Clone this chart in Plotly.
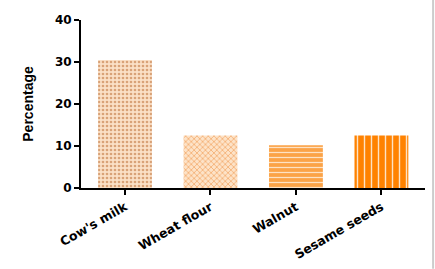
import plotly.graph_objects as go

categories = ["Cow's milk", "Wheat flour", "Walnut", "Sesame seeds"]
values = [30.5, 12.5, 10.2, 12.5]
y_ticks = [0, 10, 20, 30, 40]

shapes = [".", "x", "-", "|"]
bgcolors = ["#fbe0c6", "#fde3c8", "#fba347", "#ff8200"]
fgcolors = ["#d9a277", "#f4b27a", "#fde2c4", "#fde2c4"]
sizes = [4, 4, 5, 7]
solidity = [0.35, 0.4, 0.25, 0.2]

fig = go.Figure()
for i, c in enumerate(categories):
    fig.add_trace(go.Bar(
        x=[c], y=[values[i]], width=0.63,
        marker=dict(
            color=bgcolors[i],
            line=dict(width=0),
            pattern=dict(shape=shapes[i], bgcolor=bgcolors[i], fgcolor=fgcolors[i],
                         size=sizes[i], solidity=solidity[i], fillmode="replace"),
        ),
        showlegend=False,
    ))

tick_family = "DejaVu Sans, Arial, sans-serif"
fig.update_layout(
    width=435, height=269,
    margin=dict(l=81, r=10, t=20, b=81),
    paper_bgcolor="white", plot_bgcolor="white",
    barmode="overlay",
    font=dict(family="Liberation Sans, Arial, sans-serif", color="black"),
    xaxis=dict(
        categoryorder="array", categoryarray=categories,
        range=[-0.515, 3.51], automargin=False,
        showline=True, linecolor="black", linewidth=2,
        ticks="outside", ticklen=5, tickwidth=2, tickcolor="black",
        tickangle=-30, showgrid=False, zeroline=False,
        tickfont=dict(size=12.5, family=tick_family, weight="bold"),
    ),
    yaxis=dict(
        range=[0, 40], tickvals=y_ticks, automargin=False,
        showline=True, linecolor="black", linewidth=2,
        ticks="outside", ticklen=5, tickwidth=2, tickcolor="black",
        showgrid=False, zeroline=False,
        tickfont=dict(size=12, family=tick_family, weight="bold"),
        title=dict(text="Percentage", font=dict(size=14, weight="bold"), standoff=18),
    ),
    shapes=[dict(type="line", xref="paper", yref="paper", x0=1.0235, x1=1.0235, y0=-0.48, y1=1.12,
                 line=dict(color="#cccccc", width=2))],
)

fig.write_html("out.html")
